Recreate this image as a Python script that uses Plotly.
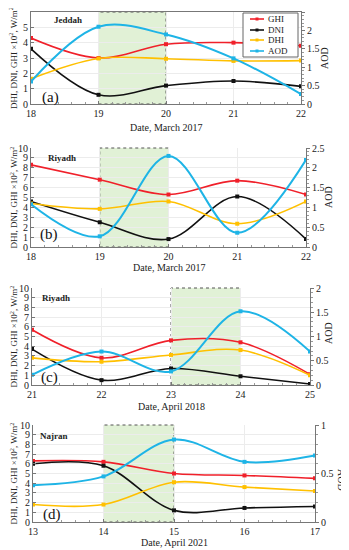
import plotly.graph_objects as go

# The page body keeps a default 8px margin, so the figure is drawn 8px in
# from the top-left corner; size it to fill the rest of the 349x550 window.
OFF = 8
FW, FH = 349 - OFF, 550 - OFF

# ---------------- data ----------------
dates_a = [18, 19, 20, 21, 22]
ghi_a = [4.3, 3.0, 3.9, 4.0, 3.8]
dni_a = [3.6, 0.6, 1.2, 1.5, 1.15]
dhi_a = [1.65, 2.97, 2.95, 2.81, 2.83]
aod_a = [0.61, 2.10, 1.89, 1.24, 0.27]

dates_b = [18, 19, 20, 21, 22]
ghi_b = [8.3, 6.8, 5.3, 6.7, 5.3]
dni_b = [4.6, 2.5, 0.8, 5.1, 0.8]
dhi_b = [4.4, 3.85, 4.6, 2.35, 4.6]
aod_b = [1.08, 0.27, 2.3, 0.36, 2.2]

dates_c = [21, 22, 23, 24, 25]
ghi_c = [5.7, 2.8, 4.6, 4.4, 1.1]
dni_c = [3.7, 0.5, 1.7, 0.9, 0.1]
dhi_c = [2.8, 2.4, 3.1, 3.6, 1.0]
aod_c = [0.21, 0.69, 0.28, 1.52, 0.69]

dates_d = [13, 14, 15, 16, 17]
ghi_d = [6.3, 6.2, 5.0, 4.8, 4.5]
dni_d = [6.0, 5.8, 1.2, 1.45, 1.6]
dhi_d = [1.8, 1.8, 4.1, 3.6, 3.2]
aod_d = [0.38, 0.47, 0.85, 0.62, 0.685]

series_names = ["GHI", "DNI", "DHI", "AOD"]
cities = ["Jeddah", "Riyadh", "Riyadh", "Najran"]
letters = ["(a)", "(b)", "(c)", "(d)"]
xtitles = ["Date, March 2017", "Date, March 2017", "Date, April 2018", "Date, April 2021"]
ytitle = "DHI, DNI, GHI ×10<sup>2</sup>, W/m<sup>2</sup>"
left_max = [6, 10, 10, 10]
right_max = [2.5, 2.5, 2, 1]
right_dtick = [0.5, 0.5, 0.5, 0.5]
shade = [(19, 20), (19, 20), (23, 24), (14, 15)]

panels = [
    (dates_a, ghi_a, dni_a, dhi_a, aod_a),
    (dates_b, ghi_b, dni_b, dhi_b, aod_b),
    (dates_c, ghi_c, dni_c, dhi_c, aod_c),
    (dates_d, ghi_d, dni_d, dhi_d, aod_d),
]

# page-pixel boxes of plot areas (left, right, top, bottom)
boxes = [(31, 301, 12, 104), (31, 306, 148, 247), (32, 310, 288, 385), (33, 315, 425, 522)]
letter_pos = [(50, 97), (49, 234), (49, 377), (52, 514)]
city_pos = [(68, 20), (62, 158), (56, 298), (54, 436)]
xtitle_y = [127, 267, 406, 542]
aod_pos = [(325, 58, -90), (328, 197, -90), (328, 333, -90), (342, 480, 90)]
ytitle_x = 13

COL = {"GHI": "#F0202A", "DNI": "#111111", "DHI": "#FFC000", "AOD": "#1EB4E6"}
FONT = "Liberation Serif"


def fx(px):
    return (px - OFF) / FW


def fy(py):
    return 1 - (py - OFF) / FH


def ax_id(letter, k):
    return letter if k == 1 else f"{letter}{k}"


def note(text, px, py, size, angle=0, color="#222", xanchor="center"):
    return dict(text=text, xref="paper", yref="paper", x=fx(px), y=fy(py),
                xanchor=xanchor, yanchor="middle", showarrow=False, textangle=angle,
                font=dict(family=FONT, size=size, color=color))


fig = go.Figure()
layout = dict(
    width=FW, height=FH, margin=dict(l=0, r=0, t=0, b=0, autoexpand=False),
    paper_bgcolor="white", plot_bgcolor="white", showlegend=False,
    font=dict(family=FONT, size=10, color="#222"),
    shapes=[], annotations=[],
)

for i, (dates, ghi, dni, dhi, aod) in enumerate(panels):
    n = i + 1
    xa, ya, yr = ax_id("x", n), ax_id("y", n), ax_id("y", n + 4)
    xkey = "xaxis" if n == 1 else f"xaxis{n}"
    ykey = "yaxis" if n == 1 else f"yaxis{n}"
    yrkey = f"yaxis{n+4}"
    l, r, t, b = boxes[i]
    xdom = [fx(l), fx(r)]
    ydom = [fy(b), min(1.0, fy(t))]
    for name, vals, axis in zip(series_names, [ghi, dni, dhi, aod], [ya, ya, ya, yr]):
        fig.add_trace(go.Scatter(
            x=dates, y=vals, name=name, xaxis=xa, yaxis=axis,
            mode="lines+markers",
            line=dict(color=COL[name], width=2 if name == "AOD" else 1.6, shape="spline", smoothing=1.0),
            marker=dict(symbol="square", size=4, color=COL[name]),
        ))
    axline = dict(showline=True, linecolor="#777", linewidth=1, ticks="inside", ticklen=3,
                  tickcolor="#777", showgrid=True, gridcolor="#ececec", gridwidth=1,
                  zeroline=False, automargin=False, tickfont=dict(family=FONT, size=10, color="#222"))
    layout[xkey] = dict(domain=xdom, anchor=ya, range=[dates[0], dates[-1]], dtick=1,
                        mirror=(i == 0),
                        minor=dict(ticks="inside", ticklen=2, nticks=5, tickcolor="#999", showgrid=False),
                        **axline)
    layout[ykey] = dict(domain=ydom, anchor=xa, range=[0, left_max[i]], dtick=1, **axline)
    layout[yrkey] = dict(overlaying=ya, anchor=xa, side="right", range=[0, right_max[i]],
                         dtick=right_dtick[i], showgrid=False, showline=True, linecolor="#777",
                         ticks="outside", ticklen=3, tickcolor="#777", zeroline=False, automargin=False,
                         minor=dict(ticks="outside", ticklen=2, nticks=5, tickcolor="#999"),
                         tickfont=dict(family=FONT, size=10, color="#222"))
    layout["shapes"].append(dict(type="rect", xref=xa, yref=f"{ya} domain", x0=shade[i][0], x1=shade[i][1],
                                 y0=0, y1=1, fillcolor="rgba(200,230,180,0.55)",
                                 line=dict(color="#555", width=1, dash="dot"), layer="below"))
    layout["annotations"] += [
        note(letters[i], *letter_pos[i], 15, color="#111"),
        note(f"<b>{cities[i]}</b>", *city_pos[i], 9),
        note(xtitles[i], (l + r) / 2, xtitle_y[i], 10),
        note(ytitle, ytitle_x, (t + b) / 2, 9, angle=-90),
        note("AOD", aod_pos[i][0], aod_pos[i][1], 10, angle=aod_pos[i][2]),
    ]

# legend box of panel (a), drawn in page pixels
LEG_BOX = (243, 298, 13, 57)
leg_rows = [19, 30, 40, 51]
layout["shapes"].append(dict(type="rect", xref="paper", yref="paper",
                             x0=fx(LEG_BOX[0]), x1=fx(LEG_BOX[1]), y0=fy(LEG_BOX[3]), y1=fy(LEG_BOX[2]),
                             fillcolor="white", line=dict(color="#666", width=1), layer="above"))
for name, ry in zip(series_names, leg_rows):
    layout["shapes"].append(dict(type="line", xref="paper", yref="paper", x0=fx(250), x1=fx(264),
                                 y0=fy(ry), y1=fy(ry), line=dict(color=COL[name], width=1.6), layer="above"))
    layout["shapes"].append(dict(type="rect", xref="paper", yref="paper", x0=fx(255.5), x1=fx(258.5),
                                 y0=fy(ry + 1.5), y1=fy(ry - 1.5), fillcolor=COL[name],
                                 line=dict(width=0), layer="above"))
    layout["annotations"].append(note(name, 266, ry, 9, xanchor="left"))

fig.update_layout(**layout)
fig.write_html("out.html")
